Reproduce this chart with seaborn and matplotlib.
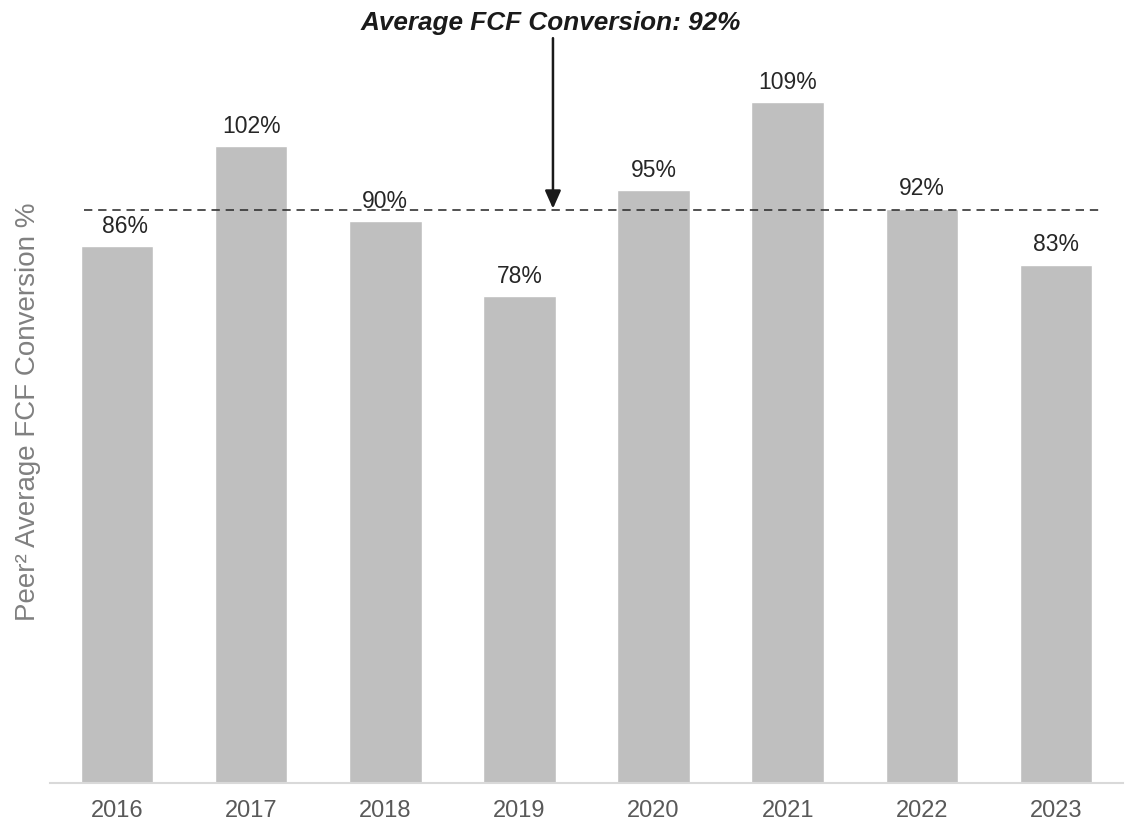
import matplotlib
matplotlib.use("Agg")
import matplotlib.pyplot as plt
import seaborn as sns
import pandas as pd

years = ["2016", "2017", "2018", "2019", "2020", "2021", "2022", "2023"]
conversion = [86, 102, 90, 78, 95, 109, 92, 83]
labels = ["86%", "102%", "90%", "78%", "95%", "109%", "92%", "83%"]
average = 92
title_text = "Average FCF Conversion: 92%"
ylabel_text = "Peer² Average FCF Conversion %"

sns.set_theme(style="white")
plt.rcParams["font.family"] = ["Liberation Sans", "DejaVu Sans"]

df = pd.DataFrame({"year": years, "value": conversion})

fig = plt.figure(figsize=(11.27, 8.25), dpi=100)
ax = fig.add_axes([0.0444, 0.0509, 0.952, 0.949])

sns.barplot(data=df, x="year", y="value", color="#bfbfbf", saturation=1,
            width=0.54, ax=ax)

ax.set_xlim(-0.5, 7.5)
ax.set_ylim(0, 125.4)

for i, (v, lab) in enumerate(zip(conversion, labels)):
    dx = 6 if i == 0 else 0
    ax.annotate(lab, xy=(i, v), xytext=(dx, 6), textcoords="offset points",
                ha="center", va="bottom", fontsize=16.5, color="#262626")

ax.hlines(average - 0.3, -0.25, 7.32, colors="#333333", linestyles=(0, (5, 3.5)),
          linewidth=1.2)

ax.annotate("", xy=(3.25, average), xytext=(3.25, 119.3),
            arrowprops=dict(arrowstyle="-|>,head_length=0.9,head_width=0.4",
                            color="#1a1a1a", lw=1.8, shrinkA=0, shrinkB=0),
            annotation_clip=False)
ax.text(3.23, 121.8, title_text, ha="center", va="center", fontsize=18.8,
        fontweight="bold", fontstyle="italic", color="#1a1a1a", clip_on=False)

ax.set_xlabel("")
ax.set_ylabel(ylabel_text, fontsize=20, color="#808080")
ax.yaxis.set_label_coords(-0.008, 0.474)
ax.set_yticks([])
ax.tick_params(axis="x", length=0, pad=12, labelsize=17, labelcolor="#595959")

for s in ["top", "right", "left"]:
    ax.spines[s].set_visible(False)
ax.spines["bottom"].set_color("#d9d9d9")
ax.spines["bottom"].set_linewidth(1.5)

fig.savefig("out.png", dpi=100)
